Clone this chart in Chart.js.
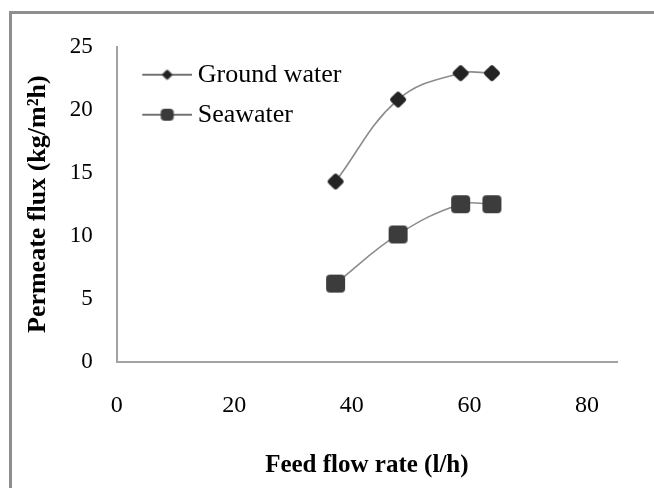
<!DOCTYPE html>
<html><head><meta charset="utf-8">
<script src="https://cdn.jsdelivr.net/npm/chart.js@4.4.1/dist/chart.umd.min.js"></script>
<style>
html,body{margin:0;padding:0;background:#fff;overflow:hidden}
#wrap{position:relative;width:654px;height:488px}
#frame{position:absolute;left:9px;top:11px;right:-6px;bottom:-6px;border-left:3px solid #8e8e8e;border-top:3px solid #8e8e8e}
canvas{position:absolute;left:0;top:0}
</style></head>
<body><div id="wrap"><div id="frame"></div><canvas id="c" width="654" height="488"></canvas></div>
<script>
// ---- data ----
const feedFlow = [35, 45, 55, 60];
const groundWater = [14.3, 20.8, 22.9, 22.9];
const seawater = [6.2, 10.1, 12.5, 12.5];
const seriesNames = ['Ground water', 'Seawater'];
const xTickLabels = [0, 20, 40, 60, 80];
const yTickLabels = [0, 5, 10, 15, 20, 25];

// ---- marker images ----
function roundRectPath(ctx, x, y, w, h, r) {
  ctx.beginPath();
  ctx.moveTo(x + r, y);
  ctx.lineTo(x + w - r, y); ctx.quadraticCurveTo(x + w, y, x + w, y + r);
  ctx.lineTo(x + w, y + h - r); ctx.quadraticCurveTo(x + w, y + h, x + w - r, y + h);
  ctx.lineTo(x + r, y + h); ctx.quadraticCurveTo(x, y + h, x, y + h - r);
  ctx.lineTo(x, y + r); ctx.quadraticCurveTo(x, y, x + r, y);
  ctx.closePath();
}
function diamondImg(diag, color) {
  const s = Math.ceil(diag) + 2;
  const c = document.createElement('canvas'); c.width = s; c.height = s;
  const ctx = c.getContext('2d');
  const side = diag / Math.SQRT2;
  ctx.translate(s / 2, s / 2); ctx.rotate(Math.PI / 4);
  roundRectPath(ctx, -side / 2, -side / 2, side, side, side * 0.22);
  ctx.fillStyle = color; ctx.fill();
  return c;
}
function squareImg(w, h, color) {
  const c = document.createElement('canvas'); c.width = w + 2; c.height = h + 2;
  const ctx = c.getContext('2d');
  roundRectPath(ctx, 1, 1, w, h, 4);
  ctx.fillStyle = color; ctx.fill();
  return c;
}
function legendIcon(kind) {
  const c = document.createElement('canvas'); c.width = 69; c.height = 20;
  const ctx = c.getContext('2d');
  ctx.strokeStyle = '#444'; ctx.lineWidth = 1.3;
  ctx.beginPath(); ctx.moveTo(19, 10); ctx.lineTo(69, 10); ctx.stroke();
  const m = kind === 'diamond' ? diamondImg(11, '#222') : squareImg(13, 12, '#3a3a3a');
  ctx.drawImage(m, 44 - m.width / 2, 10 - m.height / 2);
  return c;
}
const gwMarker = diamondImg(18, '#242424');
const swMarker = squareImg(19, 18, '#3c3c3c');
const legendIcons = [legendIcon('diamond'), legendIcon('square')];

const serif = 'Liberation Serif';

new Chart(document.getElementById('c'), {
  type: 'line',
  data: {
    datasets: [
      { label: seriesNames[0], data: feedFlow.map((x, i) => ({ x, y: groundWater[i] })),
        borderColor: '#8c8c8c', borderWidth: 1.6, tension: 0.4, pointStyle: gwMarker, xAxisID: 'x', yAxisID: 'y' },
      { label: seriesNames[1], data: feedFlow.map((x, i) => ({ x, y: seawater[i] })),
        borderColor: '#8c8c8c', borderWidth: 1.6, tension: 0.4, pointStyle: swMarker, xAxisID: 'x', yAxisID: 'y' }
    ]
  },
  options: {
    responsive: false, animation: false, devicePixelRatio: 1,
    layout: { padding: { left: 22.4, right: 37, top: 46.7, bottom: 7 } },
    plugins: {
      tooltip: { enabled: false },
      legend: {
        position: 'chartArea', align: 'start',
        title: { display: true, text: ' ', font: { size: 2 }, padding: { top: 45.3, bottom: 0 } },
        labels: {
          usePointStyle: true, pointStyleWidth: 54, padding: 14, color: '#000',
          font: { family: serif, size: 26 },
          generateLabels: (chart) => chart.data.datasets.map((ds, i) => ({
            text: ds.label, pointStyle: legendIcons[i], fillStyle: 'rgba(0,0,0,0)',
            strokeStyle: 'rgba(0,0,0,0)', lineWidth: 0, hidden: false, datasetIndex: i, fontColor: '#000'
          }))
        }
      }
    },
    scales: {
      x: { type: 'linear', min: 0, max: 80, display: false },
      x2: {
        type: 'linear', position: 'bottom', min: 0, max: 85.1,
        grid: { display: false, drawTicks: false },
        border: { display: true, color: '#a3a3a3', width: 2 },
        ticks: { stepSize: 20, includeBounds: false, padding: 30, color: '#000', maxRotation: 0,
          font: { family: serif, size: 24 },
          callback: (v) => xTickLabels.includes(v) ? String(v) : '' },
        title: { display: true, text: 'Feed flow rate (l/h)', color: '#000',
          font: { family: serif, size: 25, weight: 'bold' }, padding: { top: 0.5, bottom: 0 } }
      },
      y: {
        type: 'linear', min: 0, max: Math.max(...yTickLabels),
        grid: { display: false, drawTicks: false },
        border: { display: true, color: '#a3a3a3', width: 2 },
        ticks: { stepSize: 5, padding: 24, color: '#000', font: { family: serif, size: 23 },
          callback: (v) => yTickLabels.includes(v) ? String(v) : '' },
        title: { display: true, text: 'Permeate flux (kg/m²h)', color: '#000',
          font: { family: serif, size: 26, weight: 'bold' }, padding: { top: 0, bottom: 0 } },
        afterFit: (s) => { s.width = 116.7 - 22.4; }
      }
    }
  }
});
</script>
</body></html>
